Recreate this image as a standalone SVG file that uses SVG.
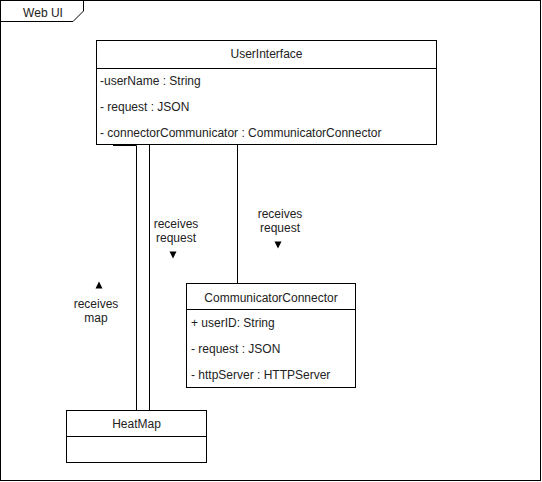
<svg xmlns="http://www.w3.org/2000/svg" width="542" height="482" viewBox="0 0 542 482">
<style>
.box{fill:#fff;stroke:#000;stroke-width:1}
.ln{fill:none;stroke:#000;stroke-width:1}
text{font-family:"Liberation Sans",Arial,sans-serif;font-size:12px;fill:#222}
.c{text-anchor:middle}
.arr{fill:#000;stroke:none}
</style>
<rect width="542" height="482" fill="#fff"/>
<g id="frame">
<rect x="0.5" y="0.5" width="540" height="480" class="ln"/>
<path d="M0.5 21.5 H73 L83.5 11 V0.5" class="ln"/>
<text x="43" y="17" class="c">Web UI</text>
</g>
<g id="connectors">
<path d="M136.5 410 V145.5 H113" class="ln"/>
<line x1="149.5" y1="144" x2="149.5" y2="410" class="ln"/>
<line x1="237.5" y1="144" x2="237.5" y2="283" class="ln"/>
<text x="176" y="228" class="c">receives</text>
<text x="176" y="242" class="c">request</text>
<polygon points="169.5,251.5 176.5,251.5 173,258.5" class="arr"/>
<text x="280" y="218" class="c">receives</text>
<text x="280" y="232" class="c">request</text>
<polygon points="274.5,241.5 281.5,241.5 278,248.5" class="arr"/>
<text x="96" y="308" class="c">receives</text>
<text x="96" y="322" class="c">map</text>
<polygon points="95.5,288.5 102.5,288.5 99,281.5" class="arr"/>
</g>
<g id="UserInterface">
<rect x="96.5" y="40.5" width="340" height="104" class="box"/>
<line x1="96.5" y1="68.5" x2="436.5" y2="68.5" class="ln"/>
<text x="266.5" y="58" class="c">UserInterface</text>
<text x="100" y="85">-userName : String</text>
<text x="100" y="111">- request : JSON</text>
<text x="100" y="137">- connectorCommunicator : CommunicatorConnector</text>
</g>
<g id="CommunicatorConnector">
<rect x="186.5" y="283.5" width="169" height="104" class="box"/>
<line x1="186.5" y1="309.5" x2="355.5" y2="309.5" class="ln"/>
<text x="271" y="302" class="c">CommunicatorConnector</text>
<text x="191" y="327">+ userID: String</text>
<text x="191" y="353">- request : JSON</text>
<text x="191" y="379">- httpServer : HTTPServer</text>
</g>
<g id="HeatMap">
<rect x="66.5" y="410.5" width="140" height="52" class="box"/>
<line x1="66.5" y1="436.5" x2="206.5" y2="436.5" class="ln"/>
<text x="136.5" y="428" class="c">HeatMap</text>
</g>
</svg>
